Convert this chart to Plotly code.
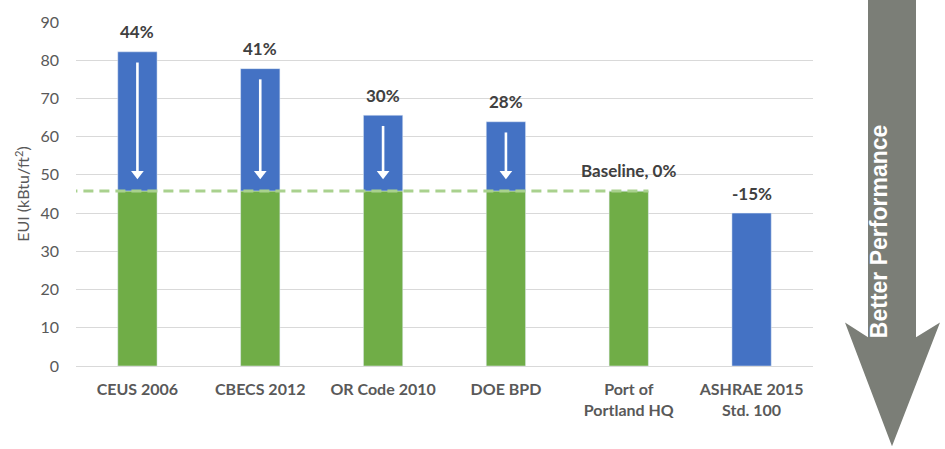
import plotly.graph_objects as go

# ---- data ----
categories = ["CEUS 2006", "CBECS 2012", "OR Code 2010", "DOE BPD",
              "Port of<br>Portland HQ", "ASHRAE 2015<br>Std. 100"]
eui_total = [82.2, 77.8, 65.6, 63.9, 45.8, 40.0]
baseline = 45.8
green_part = [45.8, 45.8, 45.8, 45.8, 45.8, None]
pct_labels = ["44%", "41%", "30%", "28%", "Baseline, 0%", "-15%"]
show_arrow = [True, True, True, True, False, False]
arrow_tip = 49.0
y_ticks = [0, 10, 20, 30, 40, 50, 60, 70, 80, 90]

BLUE = "#4472c4"
GREEN = "#70ad47"
LIGHT_GREEN = "#a9d18e"
GRAY_TXT = "#595959"
LABEL_TXT = "#404040"
ARROW_GRAY = "#7b7e77"
FONT = "Lato"

blue_base = [g if g is not None else 0 for g in green_part]
blue_len = [t - b for t, b in zip(eui_total, blue_base)]

fig = go.Figure()
fig.add_trace(go.Bar(x=categories, y=green_part, marker_color=GREEN,
                     width=0.32, hoverinfo="skip"))
fig.add_trace(go.Bar(x=categories, y=blue_len, base=blue_base, marker_color=BLUE,
                     width=0.32, hoverinfo="skip"))

# white down-arrows inside the blue segments
for cat, tot, arr in zip(categories, eui_total, show_arrow):
    if not arr:
        continue
    fig.add_trace(go.Scatter(x=[cat, cat], y=[tot - 2.8, arrow_tip + 2.0], mode="lines",
                             line=dict(color="white", width=2.6), hoverinfo="skip"))
    fig.add_trace(go.Scatter(x=[cat], y=[arrow_tip + 1.3], mode="markers",
                             marker=dict(symbol="triangle-down", size=11, color="white",
                                         line=dict(width=0)),
                             hoverinfo="skip"))

# plot-area geometry in pixels (for decorative shapes)
L, R, T, B = 76, 132, 19, 83
W = 945 - L - R
H = 449 - T - B


def px(xp):
    return (xp - L) / W


def py(yp):
    return (449 - B - yp) / H


annotations = []
for cat, tot, lab in zip(categories, eui_total, pct_labels):
    annotations.append(dict(x=cat, y=tot, xref="x", yref="y", text=lab, showarrow=False,
                            yshift=20, font=dict(family=FONT, size=17, color=LABEL_TXT,
                                                 weight="bold")))

annotations.append(dict(x=px(894), y=py(231), xref="paper", yref="paper",
                        text="Better Performance", textangle=-90, showarrow=False,
                        font=dict(family="Liberation Sans", size=23, color="white",
                                  weight="bold")))

pts = [(868, -5), (916, -5), (916, 337), (940, 322), (892, 447), (845, 322), (868, 337)]
path = "M " + " L ".join(f"{px(a):.5f},{py(b):.5f}" for a, b in pts) + " Z"

shapes = [
    dict(type="path", path=path, xref="paper", yref="paper",
         fillcolor=ARROW_GRAY, line=dict(width=0), layer="above"),
    dict(type="line", xref="x", yref="y", x0=-0.57, x1=4.16, y0=baseline, y1=baseline,
         line=dict(color=LIGHT_GREEN, width=3, dash="10px,6px"), layer="above"),
]

fig.update_layout(
    width=945, height=449,
    margin=dict(l=L, r=R, t=T, b=B),
    barmode="overlay",
    showlegend=False,
    paper_bgcolor="white",
    plot_bgcolor="white",
    annotations=annotations,
    shapes=shapes,
    font=dict(family=FONT, color=GRAY_TXT),
)
fig.update_xaxes(
    showgrid=False, showline=True, linecolor="#d9d9d9", linewidth=1,
    tickfont=dict(family=FONT, size=16, color=GRAY_TXT, weight="bold"),
    ticks="", ticklabelstandoff=9, range=[-0.5, 5.5],
)
fig.update_yaxes(
    range=[0, 90], tickvals=y_ticks, showgrid=True, gridcolor="#d9d9d9", gridwidth=1,
    zeroline=False, showline=False,
    tickfont=dict(family=FONT, size=16, color=GRAY_TXT), ticklabelstandoff=16,
    title=dict(text="EUI (kBtu/ft<sup>2</sup>)", font=dict(family=FONT, size=16,
                                                          color=GRAY_TXT), standoff=6),
)

fig.write_html("out.html", post_script="document.body.style.margin='0';",
               config={"displayModeBar": False})
